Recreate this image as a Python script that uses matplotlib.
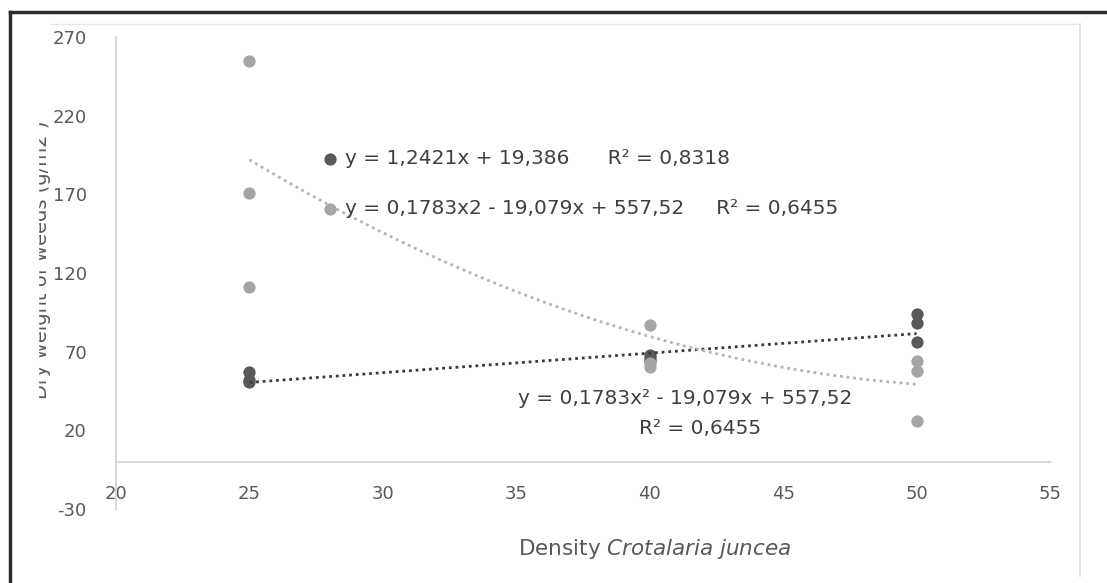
import matplotlib.pyplot as plt
import numpy as np
from matplotlib.lines import Line2D
from matplotlib.patches import Rectangle

plt.rcParams["axes.unicode_minus"] = False

# densities of Crotalaria juncea and dry weight of weeds (g/m2), two series
density = [25, 25, 25, 40, 40, 40, 50, 50, 50]
weeds_dark = [51, 52, 57, 64, 66, 68, 76, 88, 94]
weeds_gray = [255, 171, 111, 87, 63, 60, 64, 58, 26]

# trendline coefficients as printed on the chart
lin_coef = [1.2421, 19.386]
quad_coef = [0.1783, -19.079, 557.52]

label_dark = "y = 1,2421x + 19,386      R² = 0,8318"
label_gray = "y = 0,1783x2 - 19,079x + 557,52     R² = 0,6455"
quad_eq = "y = 0,1783x² - 19,079x + 557,52"
quad_r2 = "R² = 0,6455"

x_ticks = [20, 25, 30, 35, 40, 45, 50, 55]
y_ticks = [-30, 20, 70, 120, 170, 220, 270]

W, H = 1107, 583


def fx(px):
    return px / W


def fy(py):
    return 1 - py / H


DARK = "#595959"
GRAY = "#a5a5a5"
TXT = "#404040"

fig = plt.figure(figsize=(W / 100, H / 100), dpi=100)
ax = fig.add_axes([fx(116), fy(509), (1050 - 116) / W, (509 - 37) / H])

sc_dark = ax.scatter(density, weeds_dark, s=78, color=DARK, zorder=2, linewidths=0)
sc_gray = ax.scatter(density, weeds_gray, s=78, color=GRAY, zorder=2, linewidths=0)

xs = np.linspace(min(density), max(density), 200)
ax.plot(xs, np.polyval(lin_coef, xs), color="#3a3a3a", lw=2.0,
        linestyle=(0, (1, 1.4)), zorder=3)
ax.plot(xs, np.polyval(quad_coef, xs), color="#b5b5b5", lw=2.0,
        linestyle=(0, (1, 1.4)), zorder=3)

ax.set_xlim(20, 55)
ax.set_ylim(-30, 270)
ax.set_xticks(x_ticks)
ax.set_yticks(y_ticks)

for s in ["top", "right"]:
    ax.spines[s].set_visible(False)
ax.spines["left"].set_color("#d9d9d9")
ax.spines["left"].set_linewidth(1.5)
ax.spines["bottom"].set_position(("data", 0))
ax.spines["bottom"].set_color("#d9d9d9")
ax.spines["bottom"].set_linewidth(1.5)
ax.tick_params(length=0, labelsize=13, labelcolor=DARK)
ax.tick_params(axis="y", pad=21)
ax.tick_params(axis="x", pad=17)

ax.legend([sc_dark, sc_gray], [label_dark, label_gray], loc="upper left",
          bbox_to_anchor=(fx(323), fy(149)), bbox_transform=fig.transFigure,
          frameon=False, fontsize=14.5, handlelength=0.7, handletextpad=0.4,
          labelspacing=1.55, borderpad=0, borderaxespad=0, scatterpoints=1,
          labelcolor=TXT)

fig.text(fx(685), fy(399), quad_eq, ha="center", va="center", fontsize=14.5, color=TXT)
fig.text(fx(700), fy(428), quad_r2, ha="center", va="center", fontsize=14.5, color=TXT)

fig.text(fx(655), fy(549), r"Density $\mathit{Crotalaria\ juncea}$", ha="center",
         va="center", fontsize=15.5, color=DARK)

# y label, left side cut off as in the original screenshot
fig.text(fx(41.5), fy(260), "Dry weight of weeds (g/m2 )", rotation=90,
         ha="center", va="center", fontsize=14, color=DARK)
fig.add_artist(Rectangle((fx(12), fy(440)), fx(38) - fx(12), fy(80) - fy(440),
                         color="white", zorder=4))

# outer frame of the screenshot
fig.add_artist(Line2D([fx(50), fx(1080)], [fy(24), fy(24)], color="#e6e6e6", lw=1, zorder=5))
fig.add_artist(Line2D([fx(1080), fx(1080)], [fy(24), fy(576)], color="#dcdcdc", lw=1.2, zorder=5))
fig.add_artist(Line2D([fx(10), fx(10)], [fy(12), 0], color="#2b2b2b", lw=2.5, zorder=5))
fig.add_artist(Line2D([fx(10), 1], [fy(12), fy(12)], color="#2b2b2b", lw=2.5, zorder=5))

fig.savefig("out.png", dpi=100)
